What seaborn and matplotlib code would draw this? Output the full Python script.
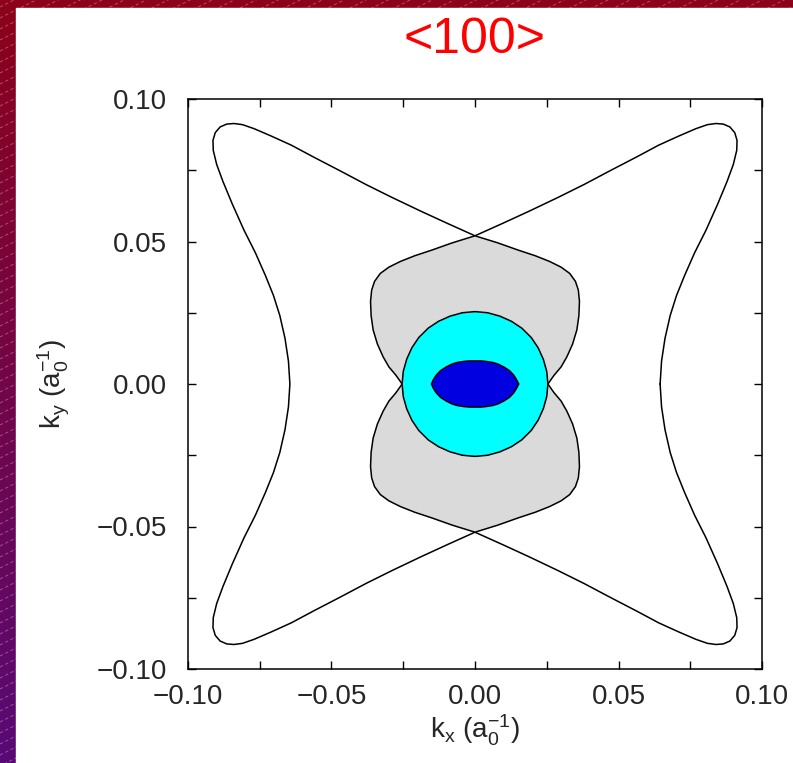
import numpy as np
import pandas as pd
import matplotlib
matplotlib.use("Agg")
import matplotlib.pyplot as plt
from matplotlib.ticker import MultipleLocator, FuncFormatter
import seaborn as sns

# ---- data: first-quadrant contour points (mirrored by symmetry) ----
outer_x = [0.0645, 0.0650, 0.0662, 0.0680, 0.0702, 0.0730, 0.0765, 0.0805, 0.0845,
           0.0878, 0.0900, 0.0912, 0.0913, 0.0905, 0.0888, 0.0865, 0.0840, 0.0810,
           0.0770, 0.0710, 0.0640, 0.0560, 0.0470, 0.0380, 0.0290, 0.0190, 0.0095, 0.0]
outer_y = [0.0, 0.0080, 0.0160, 0.0240, 0.0310, 0.0380, 0.0460, 0.0540, 0.0630,
           0.0710, 0.0770, 0.0820, 0.0855, 0.0882, 0.0902, 0.0912, 0.0914, 0.0910,
           0.0896, 0.0870, 0.0838, 0.0795, 0.0748, 0.0700, 0.0655, 0.0607, 0.0563, 0.0520]

gray_x = [0.0254, 0.0275, 0.0300, 0.0320, 0.0340, 0.0355, 0.0362, 0.0364, 0.0360,
          0.0350, 0.0330, 0.0300, 0.0260, 0.0210, 0.0150, 0.0080, 0.0]
gray_y = [0.0, 0.0030, 0.0060, 0.0095, 0.0140, 0.0190, 0.0240, 0.0290, 0.0330,
          0.0360, 0.0388, 0.0410, 0.0430, 0.0450, 0.0470, 0.0495, 0.0520]

circle_x = [0.0254, 0.0250, 0.0238, 0.0220, 0.0196, 0.0163, 0.0127, 0.0087, 0.0044, 0.0]
circle_y = [0.0, 0.0044, 0.0087, 0.0127, 0.0163, 0.0196, 0.0220, 0.0238, 0.0250, 0.0254]

lens_x = [0.0152, 0.0145, 0.0135, 0.0120, 0.0100, 0.0080, 0.0060, 0.0040, 0.0020, 0.0]
lens_y = [0.0, 0.0015, 0.0031, 0.0047, 0.0060, 0.0070, 0.0076, 0.0079, 0.0081, 0.0081]

x_ticks = [-0.10, -0.05, 0.00, 0.05, 0.10]
y_ticks = [-0.10, -0.05, 0.00, 0.05, 0.10]
title_text = "<100>"


def full_loop(qx, qy):
    qx = np.asarray(qx); qy = np.asarray(qy)
    xs = np.concatenate([qx, -qx[::-1], -qx, qx[::-1]])
    ys = np.concatenate([qy, qy[::-1], -qy, -qy[::-1]])
    return pd.DataFrame({"x": xs, "y": ys})


sns.set_theme(style="white")
plt.rcParams["font.family"] = ["Liberation Sans", "DejaVu Sans"]
plt.rcParams["mathtext.fontset"] = "custom"
plt.rcParams["mathtext.rm"] = "Liberation Sans"
plt.rcParams["mathtext.it"] = "Liberation Sans"
plt.rcParams["mathtext.default"] = "regular"

W, H = 793, 763
fig = plt.figure(figsize=(W / 100, H / 100), dpi=100)

# ---- background: gradient with diagonal dashed hatching ----
bg = fig.add_axes([0, 0, 1, 1], zorder=-10)
bg.set_xlim(0, W); bg.set_ylim(H, 0); bg.axis("off")
top = np.array([140, 2, 26]) / 255
bot = np.array([88, 10, 118]) / 255
t = np.linspace(0, 1, 256)[:, None, None]
grad = top * (1 - t) + bot * t
grad = np.repeat(grad, 4, axis=1)
bg.imshow(grad, extent=[0, W, H, 0], aspect="auto", zorder=0)
for c in np.arange(-400, H + 800, 11):
    xs = np.array([0, W])
    ys = c - 0.5 * xs
    bg.plot(xs, ys, color=(1, 0.75, 0.8), lw=0.6, alpha=0.45,
            dashes=(4, 3), zorder=1)
bg.add_patch(plt.Rectangle((16, 8), W - 16, H - 8, color="white", zorder=2))

# ---- main axes ----
ax = fig.add_axes([188 / W, 1 - 669 / H, 574 / W, 570 / H])
ax.set_facecolor("white")

layers = [
    (outer_x, outer_y, "white"),
    (gray_x, gray_y, "#DADADA"),
    (circle_x, circle_y, "#00FFFF"),
    (lens_x, lens_y, "#0000E0"),
]
for i, (qx, qy, fc) in enumerate(layers):
    df = full_loop(qx, qy)
    ax.fill(df["x"], df["y"], color=fc, zorder=2 + 2 * i, lw=0)
    sns.lineplot(data=df, x="x", y="y", sort=False, estimator=None,
                 color="black", lw=1.1, ax=ax, zorder=3 + 2 * i)

ax.set_xlim(-0.10, 0.10)
ax.set_ylim(-0.10, 0.10)
ax.xaxis.set_major_locator(MultipleLocator(0.05))
ax.yaxis.set_major_locator(MultipleLocator(0.05))
ax.xaxis.set_minor_locator(MultipleLocator(0.025))
ax.yaxis.set_minor_locator(MultipleLocator(0.025))
fmt = FuncFormatter(lambda v, p: f"{v:.2f}".replace("-", "\u2212") if abs(v) > 1e-9 else "0.00")
ax.xaxis.set_major_formatter(fmt)
ax.yaxis.set_major_formatter(fmt)
ax.tick_params(which="both", direction="in", top=True, right=True, bottom=True,
               left=True, length=5.5, width=1.0, color="black")
ax.tick_params(axis="x", which="major", labelsize=20, pad=11)
ax.tick_params(axis="y", which="major", labelsize=20, pad=15)
for s in ax.spines.values():
    s.set_color("black"); s.set_linewidth(1.1); s.set_visible(True)

ax.set_xlabel(r"k$_x$ (a$_0^{-1}$)", fontsize=20, labelpad=2)
ax.set_ylabel(r"k$_y$ (a$_0^{-1}$)", fontsize=20, labelpad=18)

fig.text(475 / W, 1 - 40 / H, title_text, color="#FF0000", fontsize=36,
         ha="center", va="center")

fig.savefig("out.png", dpi=100)
